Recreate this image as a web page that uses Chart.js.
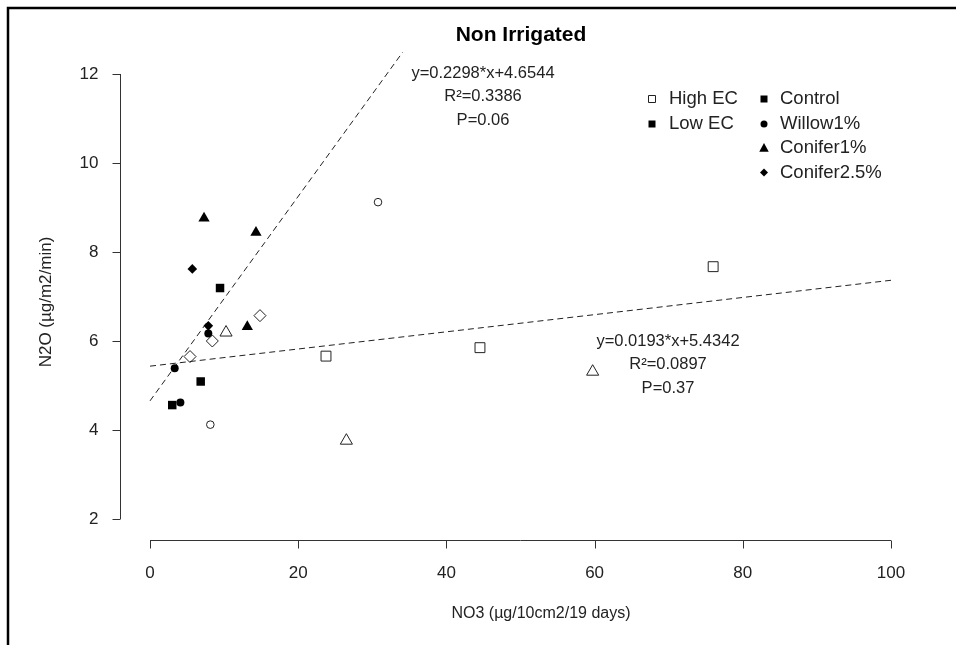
<!DOCTYPE html>
<html>
<head>
<meta charset="utf-8">
<title>Non Irrigated</title>
<script src="https://cdn.jsdelivr.net/npm/chart.js@4/dist/chart.umd.min.js"></script>
<style>
  body { margin: 0; background: #fff; }
  #n2o-chart { display: block; }
</style>
</head>
<body>
<canvas id="n2o-chart" width="956" height="645"></canvas>
<script>
// valores (x = NO3, y = N2O)
const highControlX = [23.75, 44.53, 76.0];
const highControlY = [5.66, 5.85, 7.67];
const highWillowX = [8.14, 30.77];
const highWillowY = [4.12, 9.12];
const highConifer1X = [10.26, 26.5, 59.74];
const highConifer1Y = [6.19, 3.76, 5.31];
const highConifer25X = [5.4, 8.41, 14.84];
const highConifer25Y = [5.65, 6.0, 6.57];

const lowControlX = [3.0, 6.84, 9.45];
const lowControlY = [4.56, 5.09, 7.19];
const lowWillowX = [4.1, 3.33, 7.87];
const lowWillowY = [4.62, 5.39, 6.17];
const lowConifer1X = [7.29, 14.3, 13.13];
const lowConifer1Y = [8.76, 8.44, 6.32];
const lowConifer25X = [5.71, 7.87];
const lowConifer25Y = [7.62, 6.34];

// rectas de regresion (extremos)
const fitHighX = [0, 100];    // y=0.0193*x+5.4342
const fitHighY = [5.4342, 7.3642];
const fitLowX = [0, 34.1];    // y=0.2298*x+4.6544
const fitLowY = [4.6544, 12.49];

const fitHighText = ["y=0.0193*x+5.4342", "R²=0.0897", "P=0.37"];
const fitLowText = ["y=0.2298*x+4.6544", "R²=0.3386", "P=0.06"];

const xTicks = [0, 20, 40, 60, 80, 100];
const yTicks = [2, 4, 6, 8, 10, 12];

const ecLabels = ["High EC", "Low EC"];
const treatmentLabels = ["Control", "Willow1%", "Conifer1%", "Conifer2.5%"];

const FONT = "'Liberation Sans', Arial, sans-serif";
const chartDOM = document.getElementById("n2o-chart");

function toPoints(xs, ys) {
    return xs.map((x, i) => ({ x: x, y: ys[i] }));
}

function openSet(label, xs, ys, style, r) {
    return {
        label: label,
        data: toPoints(xs, ys),
        pointStyle: style,
        pointRadius: r,
        backgroundColor: "rgba(0,0,0,0)",
        borderColor: "#222",
        borderWidth: 1
    };
}

function filledSet(label, xs, ys, style, r) {
    return {
        label: label,
        data: toPoints(xs, ys),
        pointStyle: style,
        pointRadius: r,
        backgroundColor: "#000",
        borderColor: "#000",
        borderWidth: 0
    };
}

function fitSet(label, xs, ys) {
    return {
        type: "line",
        label: label,
        data: toPoints(xs, ys),
        showLine: true,
        pointRadius: 0,
        borderColor: "#222",
        borderWidth: 1,
        borderDash: [6, 4],
        fill: false
    };
}

// simbolos pequeños de la leyenda
function drawSymbol(ctx, style, x, y, r, filled) {
    ctx.beginPath();
    if (style === "rect") {
        ctx.rect(x - r, y - r, 2 * r, 2 * r);
    } else if (style === "circle") {
        ctx.arc(x, y, r, 0, Math.PI * 2);
    } else if (style === "triangle") {
        ctx.moveTo(x, y - r);
        ctx.lineTo(x + r * 0.95, y + r * 0.75);
        ctx.lineTo(x - r * 0.95, y + r * 0.75);
        ctx.closePath();
    } else {
        ctx.moveTo(x, y - r);
        ctx.lineTo(x + r, y);
        ctx.lineTo(x, y + r);
        ctx.lineTo(x - r, y);
        ctx.closePath();
    }
    if (filled) {
        ctx.fillStyle = "#000";
        ctx.fill();
    } else {
        ctx.strokeStyle = "#222";
        ctx.lineWidth = 1;
        ctx.stroke();
    }
}

const rStylePlugin = {
    id: "rStyle",
    beforeDraw(chart) {
        const ctx = chart.ctx;
        ctx.save();
        ctx.fillStyle = "#fff";
        ctx.fillRect(0, 0, chart.width, chart.height);
        // marco exterior
        ctx.strokeStyle = "#000";
        ctx.lineWidth = 2.5;
        ctx.beginPath();
        ctx.moveTo(8, chart.height);
        ctx.lineTo(8, 8);
        ctx.lineTo(chart.width, 8);
        ctx.stroke();
        ctx.restore();
    },
    afterDraw(chart) {
        const ctx = chart.ctx;
        const xs = chart.scales.x;
        const ys = chart.scales.y;
        const area = chart.chartArea;
        ctx.save();
        ctx.strokeStyle = "#333";
        ctx.fillStyle = "#222";
        ctx.lineWidth = 1;

        // eje Y
        const yAxisX = area.left + 0.5;
        ctx.beginPath();
        ctx.moveTo(yAxisX, ys.getPixelForValue(yTicks[0]));
        ctx.lineTo(yAxisX, ys.getPixelForValue(yTicks[yTicks.length - 1]));
        yTicks.forEach(t => {
            const py = Math.round(ys.getPixelForValue(t)) + 0.5;
            ctx.moveTo(yAxisX, py);
            ctx.lineTo(yAxisX - 8, py);
        });
        ctx.stroke();
        ctx.font = "17px " + FONT;
        ctx.textAlign = "right";
        ctx.textBaseline = "middle";
        yTicks.forEach(t => ctx.fillText(String(t), yAxisX - 22, ys.getPixelForValue(t)));

        // eje X
        const xAxisY = area.bottom + 0.5;
        ctx.beginPath();
        ctx.moveTo(xs.getPixelForValue(xTicks[0]), xAxisY);
        ctx.lineTo(xs.getPixelForValue(xTicks[xTicks.length - 1]), xAxisY);
        xTicks.forEach(t => {
            const px = Math.round(xs.getPixelForValue(t)) + 0.5;
            ctx.moveTo(px, xAxisY);
            ctx.lineTo(px, xAxisY + 8);
        });
        ctx.stroke();
        ctx.textAlign = "center";
        xTicks.forEach(t => ctx.fillText(String(t), xs.getPixelForValue(t), xAxisY + 33));

        // titulos
        ctx.font = "16px " + FONT;
        ctx.fillText("NO3 (µg/10cm2/19 days)", 541, 614);
        ctx.save();
        ctx.translate(46, 302);
        ctx.rotate(-Math.PI / 2);
        ctx.font = "17px " + FONT;
        ctx.fillText("N2O (µg/m2/min)", 0, 0);
        ctx.restore();

        ctx.fillStyle = "#000";
        ctx.font = "bold 21px " + FONT;
        ctx.fillText("Non Irrigated", 521, 35);

        // ecuaciones
        ctx.fillStyle = "#222";
        ctx.font = "16.5px " + FONT;
        fitLowText.forEach((s, i) => ctx.fillText(s, 483, 73 + i * 23.5));
        fitHighText.forEach((s, i) => ctx.fillText(s, 668, 341 + i * 23.5));

        // leyenda
        ctx.font = "18.5px " + FONT;
        ctx.textAlign = "left";
        const rows = [99, 124, 148, 172.5];
        drawSymbol(ctx, "rect", 652, rows[0], 3.5, false);
        drawSymbol(ctx, "rect", 652, rows[1], 3.5, true);
        ctx.fillStyle = "#222";
        ecLabels.forEach((s, i) => ctx.fillText(s, 669, rows[i]));
        const legendStyles = ["rect", "circle", "triangle", "rectRot"];
        const legendSizes = [3.5, 3.5, 5, 4];
        treatmentLabels.forEach((s, i) => {
            drawSymbol(ctx, legendStyles[i], 764, rows[i], legendSizes[i], true);
            ctx.fillStyle = "#222";
            ctx.fillText(s, 780, rows[i]);
        });
        ctx.restore();
    }
};

const config = {
    type: "scatter",
    data: {
        datasets: [
            openSet("High EC Control", highControlX, highControlY, "rect", 7),
            openSet("High EC Willow1%", highWillowX, highWillowY, "circle", 3.8),
            openSet("High EC Conifer1%", highConifer1X, highConifer1Y, "triangle", 7),
            openSet("High EC Conifer2.5%", highConifer25X, highConifer25Y, "rectRot", 6),
            filledSet("Low EC Control", lowControlX, lowControlY, "rect", 6),
            filledSet("Low EC Willow1%", lowWillowX, lowWillowY, "circle", 4),
            filledSet("Low EC Conifer1%", lowConifer1X, lowConifer1Y, "triangle", 6.5),
            filledSet("Low EC Conifer2.5%", lowConifer25X, lowConifer25Y, "rectRot", 4.8),
            fitSet("High EC fit", fitHighX, fitHighY),
            fitSet("Low EC fit", fitLowX, fitLowY)
        ]
    },
    options: {
        responsive: false,
        devicePixelRatio: 1,
        animation: false,
        events: [],
        layout: { padding: { left: 120, right: 35, top: 52, bottom: 105 } },
        scales: {
            x: { type: "linear", min: -4.05, max: 104.05, display: false },
            y: { type: "linear", min: 1.528, max: 12.494, display: false }
        },
        plugins: {
            legend: { display: false },
            title: { display: false },
            tooltip: { enabled: false }
        }
    },
    plugins: [rStylePlugin]
};

Chart.defaults.font.family = FONT;
const chart = new Chart(chartDOM, config);
</script>
</body>
</html>
